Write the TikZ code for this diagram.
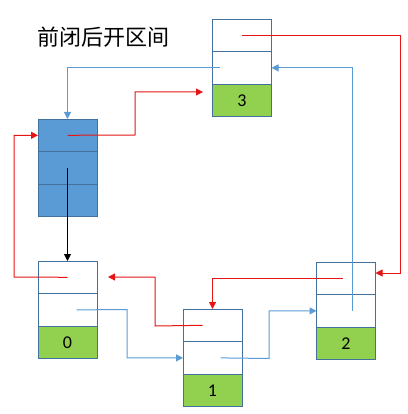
\documentclass[tikz,border=0pt]{standalone}
\usepackage{fontspec}
\setmainfont{Carlito}
\newfontfamily\cjk{Noto Sans CJK SC}
\usetikzlibrary{positioning}
\usetikzlibrary{arrows.meta}

\definecolor{boxline}{RGB}{65,113,156}
\definecolor{headfill}{RGB}{91,155,213}
\definecolor{valfill}{RGB}{146,208,80}
\definecolor{linkred}{RGB}{232,20,20}
\definecolor{linkblue}{RGB}{91,155,213}

\tikzset{
    cell/.style={draw=boxline, line width=0.9pt, minimum width=59pt, minimum height=32.6pt, inner sep=0pt, outer sep=0pt},
    valcell/.style={cell, fill=valfill, font=\fontsize{18}{18}\selectfont},
    headcell/.style={cell, fill=headfill},
    redlink/.style={draw=linkred, line width=1pt, -{Triangle[length=7pt,width=7pt]}},
    bluelink/.style={draw=linkblue, line width=1pt, -{Triangle[length=7pt,width=7pt]}},
    blacklink/.style={draw=black, line width=1pt, -{Triangle[length=7pt,width=7pt]}}
}

\begin{document}
\begin{tikzpicture}[x=1pt, y=-1pt]
        \useasboundingbox (0,0) rectangle (407,414);

        % title
        \node[font=\cjk\fontsize{22}{22}\selectfont] (title) at (103,37) {前闭后开区间};

        % list nodes
        \foreach \name/\x/\y/\val in {n3/242/19/3, n0/67.5/261/0, n1/212.5/309/1, n2/346/262/2} {
            \node[cell] (\name a) at (\x,\y+16.3) {};
            \node[cell, below=0pt of \name a] (\name b) {};
            \node[valcell, below=0pt of \name b] (\name c) {\val};
        }

        % head node
        \node[headcell] (ha) at (67.5,135.3) {};
        \node[headcell, below=0pt of ha] (hb) {};
        \node[headcell, below=0pt of hb] (hc) {};

        % free arrow ends
        \coordinate (endhead) at (203,92);
        \coordinate (end0) at (108,277);

        % red links
        \draw[redlink] (n3a.center) -| (400,273) -- (n2a.east |- 0,273);
        \draw[redlink] ([xshift=-3pt]n2a.center) -| (n1a.north);
        \draw[redlink] ([xshift=-10pt]n1a.center) -- (155,326) |- (end0);
        \draw[redlink] (n0a.center) -- (14,277) |- (ha.west);
        \draw[redlink] (ha.center) -- (135,135) |- (endhead);

        % blue links
        \draw[bluelink] ([xshift=-22pt]n3b.center) -| (ha.north);
        \draw[bluelink] ([xshift=6pt]n2b.center) |- (n3b.east);
        \draw[bluelink] ([xshift=9pt]n0b.center) -- (127,309.5) |- (n1b.west);
        \draw[bluelink] ([xshift=8pt]n1b.center) -- (269,358.5) |- (n2b.west);

        % black link
        \draw[blacklink] (hb.center) -- (n0a.north);

\end{tikzpicture}
\end{document}
